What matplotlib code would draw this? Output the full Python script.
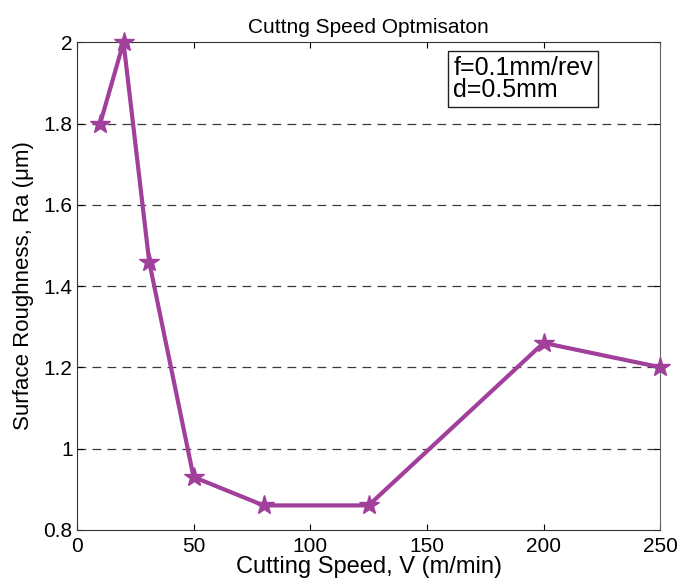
import matplotlib
matplotlib.use("Agg")
import matplotlib.pyplot as plt

# cutting speed (m/min) vs surface roughness Ra (um)
speed = [10, 20, 31, 50, 80, 125, 200, 250]
roughness = [1.80, 2.00, 1.46, 0.93, 0.86, 0.86, 1.26, 1.20]
x_ticks = [0, 50, 100, 150, 200, 250]
y_ticks = [0.8, 1.0, 1.2, 1.4, 1.6, 1.8, 2.0]
y_tick_labels = ["0.8", "1", "1.2", "1.4", "1.6", "1.8", "2"]

plt.rcParams['font.family'] = ['Liberation Sans', 'DejaVu Sans']

fig = plt.figure(figsize=(6.8, 5.79), dpi=100)
ax = fig.add_axes([0.113, 0.085, 0.858, 0.842])

ax.plot(speed, roughness, color="#a0409a", linewidth=3, marker="*",
        markersize=15, clip_on=False, zorder=3)

ax.set_xlim(0, 250)
ax.set_ylim(0.8, 2.0)
ax.set_xticks(x_ticks)
ax.set_yticks(y_ticks)
ax.set_yticklabels(y_tick_labels)
ax.tick_params(direction="in", top=True, right=True, labelsize=15, length=4)
ax.tick_params(axis="x", pad=5)
ax.tick_params(axis="y", pad=3)

for y in y_ticks[1:-1]:
    ax.axhline(y, color="#3a3a3a", linestyle=(0, (7, 5)), linewidth=0.9, zorder=1)

for side in ["left", "bottom", "top"]:
    ax.spines[side].set_color("#333333")
ax.spines["right"].set_color("#666666")

ax.set_title("Cuttng Speed Optmisaton", fontsize=15, pad=7)
ax.set_xlabel("Cutting Speed, V (m/min)", fontsize=17, labelpad=0)
ax.set_ylabel("Surface Roughness, Ra (\u03bcm)", fontsize=16, labelpad=7)

ax.text(0.645, 0.972, "f=0.1mm/rev\nd=0.5mm  ", transform=ax.transAxes,
        fontsize=18, va="top", ha="left", linespacing=0.92,
        bbox=dict(boxstyle="square,pad=0.2", facecolor="white", edgecolor="#222222"))

fig.savefig("out.png", dpi=100)
